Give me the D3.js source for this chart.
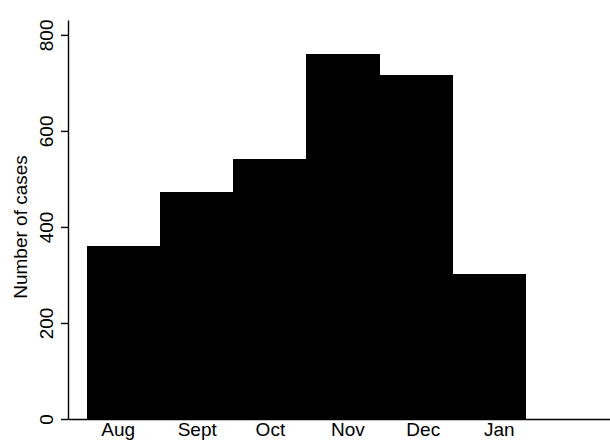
<!DOCTYPE html>
<html>
<head>
<meta charset="utf-8">
<script src="https://cdn.jsdelivr.net/npm/d3@7"></script>
<style>
  body { margin: 0; background: #fff; }
  svg { display: block; }
</style>
</head>
<body>
<svg id="chart" width="610" height="440"></svg>
<script>
// monthly case counts (histogram bins)
const months = ["Aug", "Sept", "Oct", "Nov", "Dec", "Jan"];
const cases = [361, 473, 542, 760, 717, 303];
// where each month label sits, in bin units
const labelPos = [0.42, 1.5, 2.5, 3.56, 4.59, 5.63];
const yTicks = [0, 200, 400, 600, 800];

const svg = d3.select("#chart");
const font = "'Liberation Sans', Arial, Helvetica, sans-serif";

let x = d3.scaleLinear().domain([-0.26, 7.15]).range([68, 610]);
let y = d3.scaleLinear().domain([0, 831]).range([419, 20]);

// bars, bin i covers [i, i+1]
svg.append("g")
  .attr("shape-rendering", "crispEdges")
  .selectAll("rect")
  .data(cases)
  .join("rect")
    .attr("x", (d, i) => x(i))
    .attr("y", d => y(d))
    .attr("width", (d, i) => x(i + 1) - x(i) + 0.5)
    .attr("height", d => y(0) - y(d))
    .attr("fill", "#000");

// y axis
let yAxis = svg.append("g")
  .attr("transform", "translate(68,0)")
  .call(d3.axisLeft(y).tickValues(yTicks).tickSize(7).tickSizeOuter(0));
yAxis.select(".domain").attr("stroke-width", 1.4);
yAxis.selectAll(".tick line").attr("stroke-width", 1.4);
yAxis.selectAll(".tick text")
  .attr("transform", "rotate(-90)")
  .attr("x", 0)
  .attr("y", -15)
  .attr("dy", 0)
  .style("text-anchor", "middle")
  .style("font-family", font)
  .style("font-size", "19px")
  .style("fill", "#000");

// x axis, labels only
let xAxis = svg.append("g")
  .attr("transform", "translate(0,419)")
  .call(d3.axisBottom(x)
    .tickValues(labelPos)
    .tickFormat((d, i) => months[i])
    .tickSize(0)
    .tickPadding(4)
    .tickSizeOuter(0));
xAxis.select(".domain").attr("stroke-width", 1.4);
xAxis.selectAll(".tick text")
  .style("font-family", font)
  .style("font-size", "19px")
  .style("fill", "#000");

// y title
svg.append("text")
  .attr("transform", "translate(27," + ((y(0) + y(800)) / 2) + ") rotate(-90)")
  .style("text-anchor", "middle")
  .style("font-family", font)
  .style("font-size", "19px")
  .style("fill", "#000")
  .text("Number of cases");
</script>
</body>
</html>
